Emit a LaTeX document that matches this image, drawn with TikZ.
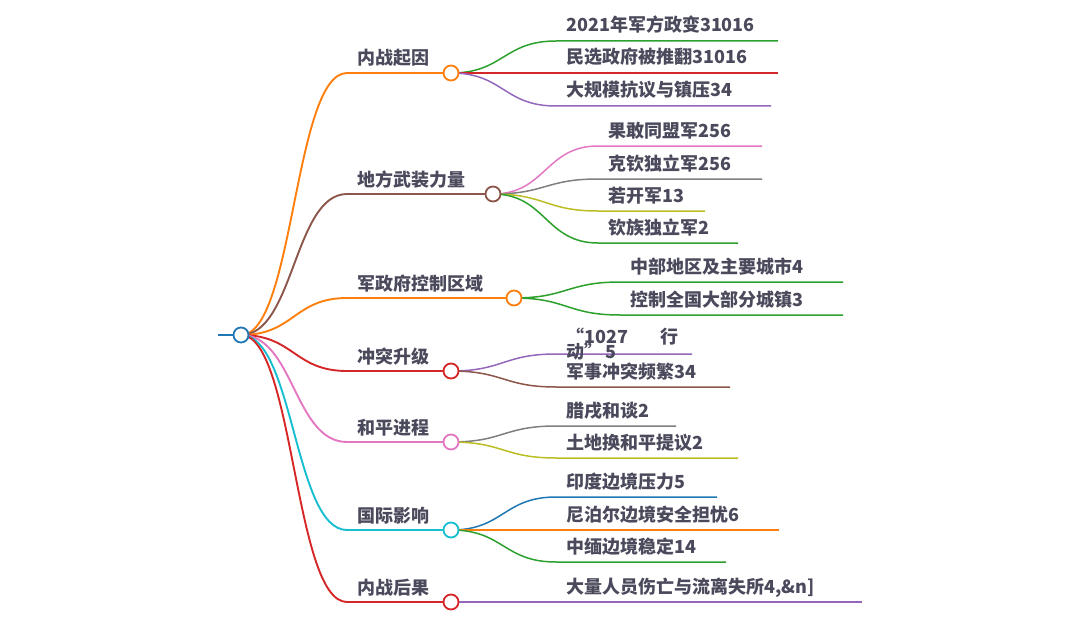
\documentclass[tikz,border=0pt]{standalone}
\usepackage{fontspec}
\setmainfont{Noto Sans CJK SC}
\usetikzlibrary{calc}
\pgfdeclarelayer{bg}
\pgfsetlayers{bg,main}
\definecolor{cblue}{HTML}{1F77B4}
\definecolor{corange}{HTML}{FF7F0E}
\definecolor{cgreen}{HTML}{2CA02C}
\definecolor{cred}{HTML}{D62728}
\definecolor{cpurple}{HTML}{9467BD}
\definecolor{cbrown}{HTML}{8C564B}
\definecolor{cpink}{HTML}{E377C2}
\definecolor{cgray}{HTML}{7F7F7F}
\definecolor{colive}{HTML}{BCBD22}
\definecolor{ccyan}{HTML}{17BECF}
\definecolor{tcol}{HTML}{4A4A5C}
\tikzset{
  txt/.style={font=\fontsize{18}{20}\selectfont\bfseries, text=tcol, inner sep=0pt, anchor=base west},
  dot/.style={circle, draw, fill=white, line width=1.8pt, minimum size=15pt, inner sep=0pt},
  lone/.style={line width=1.9pt},
  ltwo/.style={line width=1.5pt},
}
\newcommand\mlink[4]{\draw[#1] let \p1=(#2), \p2=(#3) in (\p1) .. controls ({(\x1+\x2)/2},\y1) and ({(\x1+\x2)/2},\y2) .. (\p2) -- (#4);}
\begin{document}
\begin{tikzpicture}[x=1pt,y=-1pt]
\useasboundingbox (0,0) rectangle (1080,618);
% root
\coordinate (r0) at (218,335);
\node[dot, draw=cblue] (r) at (241,335) {};
% level 1 circles
\node[dot, draw=corange] (n1) at (451,73) {};
\node[dot, draw=cbrown] (n2) at (493,194) {};
\node[dot, draw=corange] (n3) at (514,298) {};
\node[dot, draw=cred] (n4) at (451,371) {};
\node[dot, draw=cpink] (n5) at (451,442) {};
\node[dot, draw=ccyan] (n6) at (451,530) {};
\node[dot, draw=cred] (n7) at (451,602) {};
% level 1 underline starts
\coordinate (s1) at (347,73);
\coordinate (s2) at (347,194);
\coordinate (s3) at (347,298);
\coordinate (s4) at (347,371);
\coordinate (s5) at (347,442);
\coordinate (s6) at (347,530);
\coordinate (s7) at (347,602);
% level 1 labels
\node[txt] (t1) at (357,65) {内战起因};
\node[txt] (t2) at (357,186) {地方武装力量};
\node[txt] (t3) at (357,290) {军政府控制区域};
\node[txt] (t4) at (357,363) {冲突升级};
\node[txt] (t5) at (357,434) {和平进程};
\node[txt] (t6) at (357,522) {国际影响};
\node[txt] (t7) at (357,594) {内战后果};
% level 2 coordinates
\coordinate (b11) at (556,41);  \coordinate (e11) at (778,41);
\coordinate (b12) at (556,73);  \coordinate (e12) at (778,73);
\coordinate (b13) at (556,106); \coordinate (e13) at (771,106);
\coordinate (b21) at (598,146); \coordinate (e21) at (762,146);
\coordinate (b22) at (598,179); \coordinate (e22) at (762,179);
\coordinate (b23) at (598,211); \coordinate (e23) at (705,211);
\coordinate (b24) at (598,243); \coordinate (e24) at (738,243);
\coordinate (b31) at (620,282); \coordinate (e31) at (843,282);
\coordinate (b32) at (620,315); \coordinate (e32) at (843,315);
\coordinate (b41) at (556,354); \coordinate (e41) at (692,354);
\coordinate (b42) at (556,387); \coordinate (e42) at (730,387);
\coordinate (b51) at (556,426); \coordinate (e51) at (676,426);
\coordinate (b52) at (556,458); \coordinate (e52) at (738,458);
\coordinate (b61) at (556,497); \coordinate (e61) at (717,497);
\coordinate (b62) at (556,530); \coordinate (e62) at (779,530);
\coordinate (b63) at (556,562); \coordinate (e63) at (726,562);
\coordinate (b71) at (556,602); \coordinate (e71) at (862,602);
% level 2 labels
\node[txt] (t11) at (566,32) {2021年军方政变31016};
\node[txt] (t12) at (566,64) {民选政府被推翻31016};
\node[txt] (t13) at (566,97) {大规模抗议与镇压34};
\node[txt] (t21) at (608,137) {果敢同盟军256};
\node[txt] (t22) at (608,170) {克钦独立军256};
\node[txt] (t23) at (608,202) {若开军13};
\node[txt] (t24) at (608,234) {钦族独立军2};
\node[txt] (t31) at (630,273) {中部地区及主要城市4};
\node[txt] (t32) at (630,306) {控制全国大部分城镇3};
\node[txt] (t41a) at (566,343) {\makebox[94pt][l]{“1027}行};
\node[txt] (t41b) at (566,358) {\makebox[39pt][l]{动”}5};
\node[txt] (t42) at (566,378) {军事冲突频繁34};
\node[txt] (t51) at (566,417) {腊戌和谈2};
\node[txt] (t52) at (566,449) {土地换和平提议2};
\node[txt] (t61) at (566,488) {印度边境压力5};
\node[txt] (t62) at (566,521) {尼泊尔边境安全担忧6};
\node[txt] (t63) at (566,553) {中缅边境稳定14};
\node[txt] (t71) at (566,593) {大量人员伤亡与流离失所4,\&n]};
% connectors
\begin{pgfonlayer}{bg}
\draw[cblue, line width=2pt] (r0) -- (r.center);
\mlink{corange,lone}{r.center}{s1}{n1.center}
\mlink{cbrown,lone}{r.center}{s2}{n2.center}
\mlink{corange,lone}{r.center}{s3}{n3.center}
\mlink{cred,lone}{r.center}{s4}{n4.center}
\mlink{cpink,lone}{r.center}{s5}{n5.center}
\mlink{ccyan,lone}{r.center}{s6}{n6.center}
\mlink{cred,lone}{r.center}{s7}{n7.center}
\mlink{cgreen,ltwo}{n1.center}{b11}{e11}
\mlink{cred,ltwo}{n1.center}{b12}{e12}
\mlink{cpurple,ltwo}{n1.center}{b13}{e13}
\mlink{cpink,ltwo}{n2.center}{b21}{e21}
\mlink{cgray,ltwo}{n2.center}{b22}{e22}
\mlink{colive,ltwo}{n2.center}{b23}{e23}
\mlink{cgreen,ltwo}{n2.center}{b24}{e24}
\mlink{cgreen,ltwo}{n3.center}{b31}{e31}
\mlink{cgreen,ltwo}{n3.center}{b32}{e32}
\mlink{cpurple,ltwo}{n4.center}{b41}{e41}
\mlink{cbrown,ltwo}{n4.center}{b42}{e42}
\mlink{cgray,ltwo}{n5.center}{b51}{e51}
\mlink{colive,ltwo}{n5.center}{b52}{e52}
\mlink{cblue,ltwo}{n6.center}{b61}{e61}
\mlink{corange,ltwo}{n6.center}{b62}{e62}
\mlink{cgreen,ltwo}{n6.center}{b63}{e63}
\mlink{cpurple,ltwo}{n7.center}{b71}{e71}
\end{pgfonlayer}
\end{tikzpicture}
\end{document}
